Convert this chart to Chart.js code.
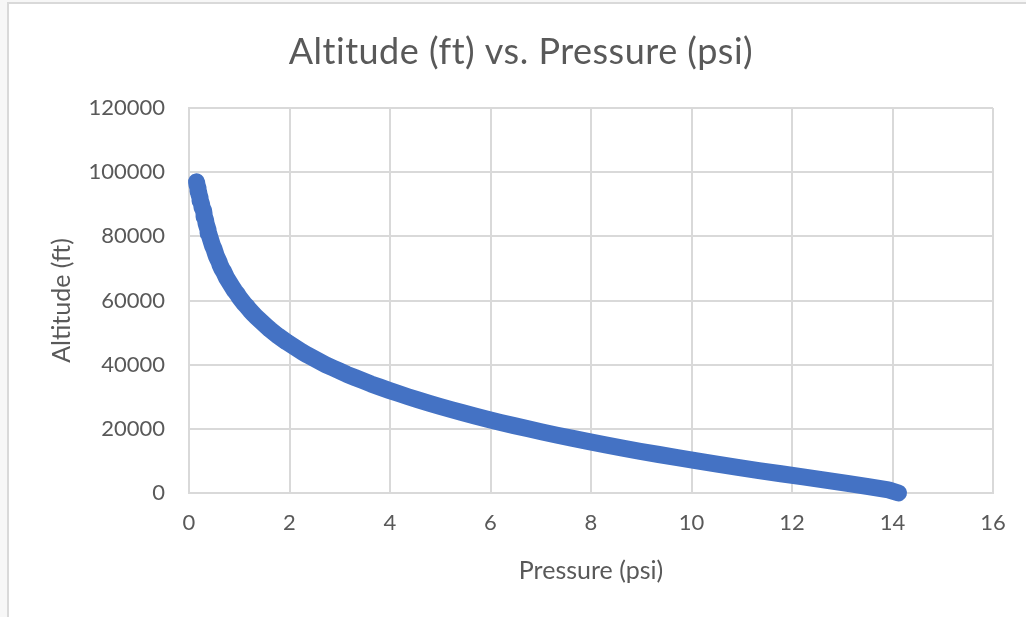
<!DOCTYPE html>
<html>
<head>
<meta charset="utf-8">
<script src="https://cdn.jsdelivr.net/npm/chart.js@4"></script>
<style>
  html, body { margin: 0; padding: 0; background: #f7f7f7; }
  #frame {
    position: absolute; left: 7px; top: 2px; width: 1019px; height: 615px;
    background: #ffffff; border-left: 2px solid #d9d9d9; border-top: 2px solid #d9d9d9;
    box-sizing: border-box;
  }
  #wrap { position: absolute; left: 0; top: 0; width: 1026px; height: 617px; }
</style>
</head>
<body>
<div id="frame"></div>
<div id="wrap"><canvas id="altChart" width="1026" height="617"></canvas></div>
<script>
// altitude (ft) and pressure (psi)
const altitudeFt = [
  0, 1000, 2000, 3000, 4000, 5000, 6000, 7000, 8000, 9000,
  10000, 11000, 12000, 13000, 14000, 15000, 16000, 17000, 18000, 19000,
  20000, 21000, 22000, 23000, 24000, 25000, 26000, 27000, 28000, 29000,
  30000, 31000, 32000, 33000, 34000, 35000, 36000, 37000, 38000, 39000,
  40000, 41000, 42000, 43000, 44000, 45000, 46000, 47000, 48000, 49000,
  50000, 51000, 52000, 53000, 54000, 55000, 56000, 57000, 58000, 59000,
  60000, 61000, 62000, 63000, 64000, 65000, 66000, 67000, 68000, 69000,
  70000, 71000, 72000, 73000, 74000, 75000, 76000, 77000, 78000, 79000,
  80000, 81000, 82000, 83000, 84000, 85000, 86000, 87000, 88000, 89000,
  90000, 91000, 92000, 93000, 94000, 95000, 96000, 97000
];
const pressurePsi = [
  14.12, 13.92, 13.52, 13.10, 12.66, 12.22, 11.78, 11.34, 10.92, 10.51,
  10.11, 9.72, 9.35, 8.98, 8.63, 8.29, 7.96, 7.64, 7.33, 7.03,
  6.75, 6.47, 6.20, 5.94, 5.69, 5.45, 5.22, 4.99, 4.77, 4.56,
  4.36, 4.17, 3.98, 3.80, 3.62, 3.46, 3.30, 3.14, 3.00, 2.86,
  2.72, 2.60, 2.48, 2.36, 2.25, 2.15, 2.05, 1.95, 1.86, 1.77,
  1.69, 1.61, 1.54, 1.47, 1.40, 1.33, 1.27, 1.21, 1.16, 1.10,
  1.05, 1.00, 0.96, 0.91, 0.87, 0.83, 0.79, 0.75, 0.72, 0.69,
  0.65, 0.62, 0.60, 0.57, 0.54, 0.52, 0.50, 0.47, 0.45, 0.43,
  0.41, 0.39, 0.38, 0.36, 0.34, 0.33, 0.31, 0.30, 0.29, 0.26,
  0.25, 0.23, 0.22, 0.20, 0.19, 0.18, 0.16, 0.15
];

const chartTitle = "Altitude (ft) vs. Pressure (psi)";
const xTitle = "Pressure (psi)";
const yTitle = "Altitude (ft)";

const textColor = "#595959";
const gridColor = "#d9d9d9";

const points = altitudeFt.map((a, i) => ({ x: pressurePsi[i], y: a }));

// title drawn centred on the whole frame, like the original
const titlePlugin = {
  id: "frameTitle",
  afterDraw(chart) {
    const ctx = chart.ctx;
    ctx.save();
    ctx.font = "36px Lato";
    ctx.letterSpacing = "0.5px";
    ctx.fillStyle = textColor;
    ctx.textAlign = "center";
    ctx.textBaseline = "middle";
    ctx.fillText(chartTitle, 521, 52);
    ctx.restore();
  }
};

new Chart("altChart", {
  type: "scatter",
  data: {
    datasets: [{
      data: points,
      showLine: true,
      clip: false,
      borderColor: "#4472C4",
      backgroundColor: "#4472C4",
      borderWidth: 17,
      borderCapStyle: "round",
      borderJoinStyle: "round",
      pointRadius: 0,
      pointHoverRadius: 0
    }]
  },
  options: {
    responsive: false,
    animation: false,
    layout: { padding: { left: 0, top: 108, right: 33, bottom: 0 } },
    plugins: {
      legend: { display: false },
      tooltip: { enabled: false }
    },
    scales: {
      x: {
        type: "linear",
        min: 0,
        max: 16,
        afterFit: (s) => { s.height = 124; },
        ticks: {
          stepSize: 2,
          color: textColor,
          font: { family: "Lato", size: 22 },
          padding: 17
        },
        grid: { color: gridColor, lineWidth: 2, drawTicks: false },
        border: { color: gridColor, width: 2 },
        title: {
          display: true,
          text: xTitle,
          color: textColor,
          font: { family: "Lato", size: 25 },
          padding: { top: 0, bottom: 31 }
        }
      },
      y: {
        type: "linear",
        min: 0,
        max: 120000,
        afterFit: (s) => { s.width = 189; },
        ticks: {
          stepSize: 20000,
          color: textColor,
          font: { family: "Lato", size: 22 },
          padding: 24,
          callback: (v) => String(v)
        },
        grid: { color: gridColor, lineWidth: 2, drawTicks: false },
        border: { color: gridColor, width: 2 },
        title: {
          display: true,
          text: yTitle,
          color: textColor,
          font: { family: "Lato", size: 25 },
          padding: { top: 47, bottom: 0 }
        }
      }
    }
  },
  plugins: [titlePlugin]
});
</script>
</body>
</html>
